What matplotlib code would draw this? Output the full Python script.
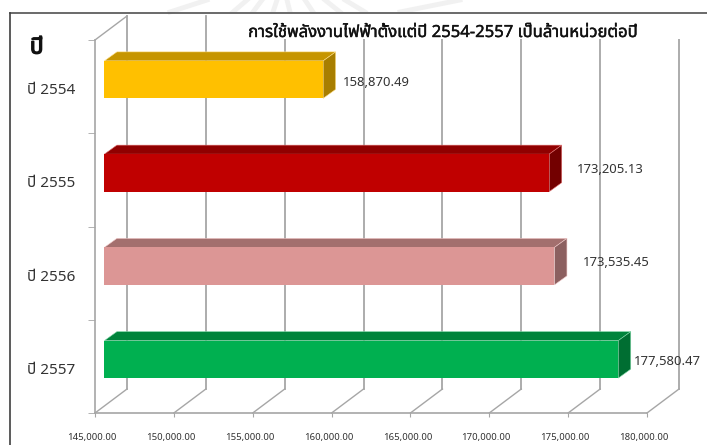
import matplotlib
matplotlib.use("Agg")
import matplotlib.pyplot as plt
import matplotlib.patheffects as pe
from matplotlib.patches import Polygon, Rectangle
from matplotlib.transforms import Affine2D, IdentityTransform

plt.rcParams['font.family'] = ['Noto Sans', 'Noto Sans Thai', 'Sarabun', 'DejaVu Sans']

# data
years = ["ปี 2554", "ปี 2555", "ปี 2556", "ปี 2557"]
usage = [158870.49, 173205.13, 173535.45, 177580.47]
usage_text = ["158,870.49", "173,205.13", "173,535.45", "177,580.47"]
x_ticks = [145000, 150000, 155000, 160000, 165000, 170000, 175000, 180000]
x_tick_labels = ["145,000.00", "150,000.00", "155,000.00", "160,000.00",
                 "165,000.00", "170,000.00", "175,000.00", "180,000.00"]
title = "การใช้พลังงานไฟฟ้าตั้งแต่ปี 2554-2557 เป็นล้านหน่วยต่อปี"

# bar colours (front, top, side, edge)
front_cols = ["#FFC000", "#C00000", "#DC9695", "#00B050"]
top_cols = ["#C69500", "#900000", "#A36F6E", "#00843C"]
side_cols = ["#A87E00", "#730000", "#8C6060", "#006E32"]
edge_cols = ["#FFE08A", "#E07070", "#F0C8C8", "#80D8A8"]

# label offsets from the bar end, pixels
label_dx = [20, 28, 28, 16]
label_dy = [-3, 3.5, 4, -2]

# faint streaks of the seal behind the picture (pixels)
seal_x0 = [170, 233, 253, 273, 290, 313, 340, 365, 400]
seal_x1 = [207, 247, 262, 277, 287, 305, 325, 345, 460]

W, H = 707, 445
GRID = "#A6A6A6"
fig = plt.figure(figsize=(W/100, H/100), dpi=100)
ax = fig.add_axes([95/W, (H-413)/H, 552/W, 373/H])
ax.set_xlim(145000, 180000)
ax.set_ylim(3.5, -0.5)
ax.patch.set_visible(False)

for a0, a1 in zip(seal_x0, seal_x1):
    fig.add_artist(plt.Line2D([a0/W, a1/W], [(H-12)/H, 1], color="#F1F1F1", lw=3.5, zorder=0))

# the 3d look, all pixel shifts from the front plane
wall = ax.transData + Affine2D().translate(32, 24)
bar_tf = ax.transData + Affine2D().translate(9.4, 7)
DX, DY = 12.5, 9

# back wall lines and floor lines
for t in x_ticks:
    ax.plot([t, t], [3.5, -0.5], color=GRID, lw=1.3, transform=wall, clip_on=False, zorder=1)
    a = ax.transData.transform((t, 3.5))
    ax.plot([a[0], a[0]+32], [a[1], a[1]+24], color=GRID, lw=1, transform=IdentityTransform(),
            clip_on=False, zorder=1)
a = ax.transData.transform((145000, -0.5))
ax.plot([a[0], a[0]+32], [a[1], a[1]+24], color=GRID, lw=1, transform=IdentityTransform(),
        clip_on=False, zorder=1)

# white box behind the title hides the wall lines
fig_box = Rectangle((215/W, (H-39)/H), 475/W, 27/H, transform=fig.transFigure,
                    facecolor="white", edgecolor="none", clip_on=False, zorder=2)
ax.add_patch(fig_box)

# bars
hgt = 0.402
for i in range(len(years)):
    ax.barh(i, usage[i]-145000, left=145000, height=hgt, color=front_cols[i],
            edgecolor="none", transform=bar_tf, clip_on=False, zorder=4)
    x0, y0 = bar_tf.transform((145000, i+hgt/2))
    x1, y1 = bar_tf.transform((usage[i], i-hgt/2))
    ax.add_patch(Polygon([(x0, y1), (x1, y1), (x1+DX, y1+DY), (x0+DX, y1+DY)], closed=True,
                         facecolor=top_cols[i], edgecolor=edge_cols[i], linewidth=0.4,
                         transform=IdentityTransform(), clip_on=False, zorder=3))
    ax.add_patch(Polygon([(x1, y0), (x1, y1), (x1+DX, y1+DY), (x1+DX, y0+DY)], closed=True,
                         facecolor=side_cols[i], edgecolor=edge_cols[i], linewidth=0.4,
                         transform=IdentityTransform(), clip_on=False, zorder=3))
    ax.annotate(usage_text[i], xy=(usage[i], i), xycoords=bar_tf,
                xytext=(label_dx[i]*0.72, label_dy[i]*0.72), textcoords="offset points",
                ha="left", va="center", fontsize=9.4, color="#333333",
                annotation_clip=False, zorder=6)

# axes
for s in ["top", "right"]:
    ax.spines[s].set_visible(False)
for s in ["left", "bottom"]:
    ax.spines[s].set_color(GRID)
    ax.spines[s].set_linewidth(1.2)
ax.set_xticks(x_ticks)
ax.set_xticklabels(x_tick_labels, fontsize=6.9, color="#333333")
ax.tick_params(axis="x", length=3, color=GRID, pad=11.5)
for lab in ax.get_xticklabels():
    lab.set_transform(lab.get_transform() + Affine2D().translate(-3, 0))
ax.set_yticks(range(len(years)))
ax.set_yticklabels(years, fontsize=11, color="#333333")
ax.tick_params(axis="y", which="major", length=0, pad=14)
for lab in ax.get_yticklabels():
    lab.set_transform(lab.get_transform() + Affine2D().translate(0, -2))
ax.set_yticks([-0.5, 0.5, 1.5, 2.5, 3.5], minor=True)
ax.tick_params(axis="y", which="minor", length=5, color=GRID)

# frame of the picture
fig.add_artist(plt.Line2D([10/W, 1], [(H-12.5)/H, (H-12.5)/H], color="#505050", lw=1.2))
fig.add_artist(plt.Line2D([10/W, 10/W], [0, (H-12.5)/H], color="#404040", lw=1.2))

heavy = [pe.withStroke(linewidth=0.3, foreground="#111111")]
fig.text(443.5/W, (H-33)/H, title, ha="center", va="center", fontsize=12, color="#111111",
         zorder=7, path_effects=heavy)
fig.text(30/W, (H-48)/H, "ปี", ha="left", va="center", fontsize=16, color="#111111",
         path_effects=[pe.withStroke(linewidth=1, foreground="#111111")])

fig.savefig("out.png", dpi=100)
